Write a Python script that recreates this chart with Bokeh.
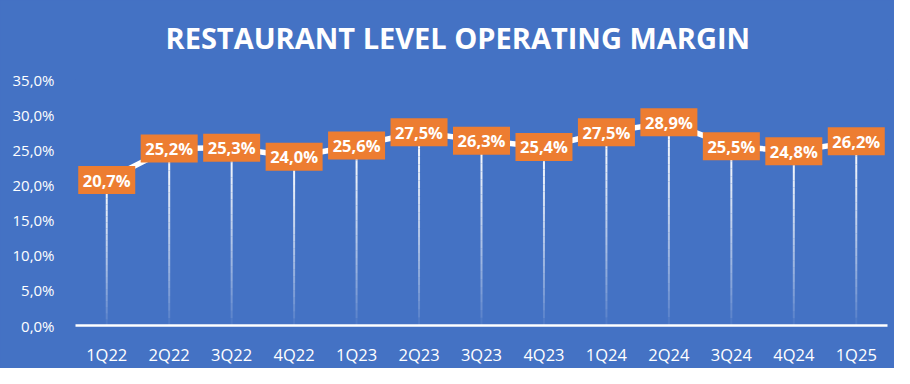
from bokeh.plotting import figure
from bokeh.models import ColumnDataSource, FactorRange, FixedTicker, CustomJSTickFormatter, Range1d, Title
from bokeh.core.properties import value
from bokeh.embed import file_html
from bokeh.resources import INLINE

quarters = ["1Q22", "2Q22", "3Q22", "4Q22", "1Q23", "2Q23", "3Q23",
            "4Q23", "1Q24", "2Q24", "3Q24", "4Q24", "1Q25"]
margin_pct = [20.7, 25.2, 25.3, 24.0, 25.6, 27.5, 26.3,
              25.4, 27.5, 28.9, 25.5, 24.8, 26.2]
y_ticks = [0, 5, 10, 15, 20, 25, 30, 35]
title_text = "RESTAURANT LEVEL OPERATING MARGIN"

BLUE = "#4472C4"
ORANGE = "#ED7D31"
FONT = "Open Sans"

labels = [("%.1f" % v).replace(".", ",") + "%" for v in margin_pct]
src = ColumnDataSource(dict(q=quarters, v=margin_pct, lab=labels))

p = figure(width=894, height=368, output_backend="svg", toolbar_location=None,
           x_range=FactorRange(*quarters, range_padding=0),
           y_range=Range1d(0, 35),
           min_border_left=75, min_border_right=7,
           min_border_top=79, min_border_bottom=32)
p.styles = {"background-color": BLUE}
p.background_fill_color = BLUE
p.border_fill_color = BLUE
p.outline_line_color = None
p.xgrid.grid_line_color = None
p.ygrid.grid_line_color = None

# invisible spacer between the frame and the title
p.add_layout(Title(text=" ", text_font_size="1px", standoff=20), "above")

p.title.text = title_text
p.title.align = "left"
p.title.offset = 90
p.title.text_color = "white"
p.title.text_font = FONT
p.title.text_font_style = "bold"
p.title.text_font_size = "29px"
p.title.standoff = 0

# drop lines with fading gradient (approximated by stacked segments)
N = 24
xs0, ys0, ys1, alphas = [], [], [], []
for q, v in zip(quarters, margin_pct):
    for i in range(N):
        xs0.append(q)
        ys0.append(v * i / N)
        ys1.append(v * (i + 1) / N)
        alphas.append(((i + 0.5) / N) ** 0.7)
p.segment(x0=xs0, y0=ys0, x1=xs0, y1=ys1, line_color="white",
          line_alpha=alphas, line_width=2)

p.line(x="q", y="v", source=src, line_color="white", line_width=5.5)

p.rect(x="q", y="v", width=57, height=28, width_units="screen", height_units="screen",
       fill_color=ORANGE, line_color=None, source=src)
p.text(x="q", y="v", text="lab", source=src, text_color="white",
       text_font=value(FONT), text_font_style="bold", text_font_size="16.5px",
       text_align="center", text_baseline="middle")

p.yaxis.ticker = FixedTicker(ticks=y_ticks)
p.yaxis.formatter = CustomJSTickFormatter(code="return tick.toFixed(1).replace('.', ',') + '%';")
p.yaxis.axis_line_color = None
p.yaxis.major_tick_line_color = None
p.yaxis.minor_tick_line_color = None
p.yaxis.major_label_text_color = "white"
p.yaxis.major_label_text_font = FONT
p.yaxis.major_label_text_font_size = "15px"
p.yaxis.major_label_standoff = 15

p.xaxis.axis_line_color = "white"
p.xaxis.axis_line_width = 2.5
p.xaxis.major_tick_line_color = None
p.xaxis.minor_tick_line_color = None
p.xaxis.major_label_text_color = "white"
p.xaxis.major_label_text_font = FONT
p.xaxis.major_label_text_font_size = "16.5px"
p.xaxis.major_label_standoff = 11

open("out.html", "w").write(file_html(p, INLINE))
